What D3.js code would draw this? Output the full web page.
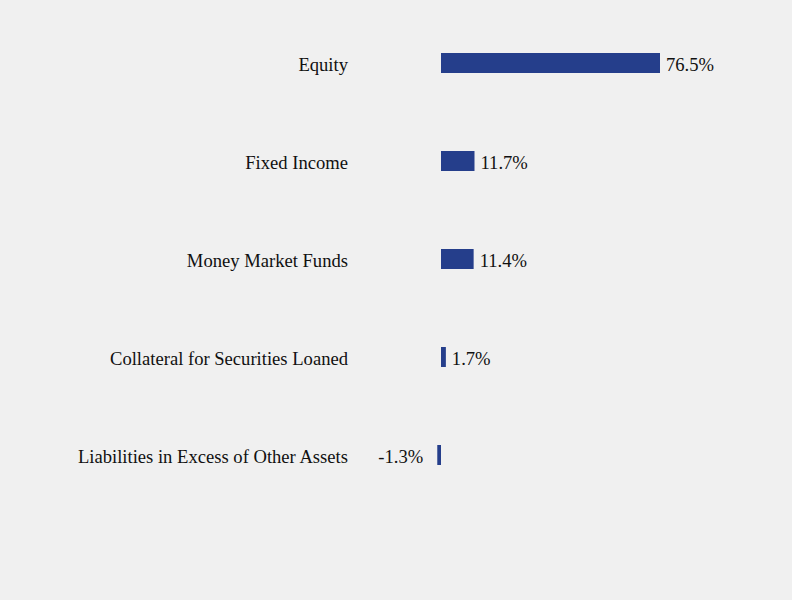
<!DOCTYPE html>
<meta charset="utf-8">
<script src="https://d3js.org/d3.v7.min.js"></script>
<style>
  body { margin: 0; background: #f0f0f0; }
</style>
<div id="my_dataviz"></div>
<script>

// chart data
var categories = ["Equity", "Fixed Income", "Money Market Funds", "Collateral for Securities Loaned", "Liabilities in Excess of Other Assets"];
var values = [76.5, 11.7, 11.4, 1.7, -1.3];

var width = 792, height = 600;
var fontFamily = "'Times New Roman', Times, Tinos, serif";

var svg = d3.select("#my_dataviz")
  .append("svg")
    .attr("width", width)
    .attr("height", height)
    .style("background", "#f0f0f0");

// x scale: zero at 441, 76.5 at 660
var x = d3.scaleLinear()
  .domain([0, 76.5])
  .range([441, 660]);

// y band scale, centers at 63 .. 455
var y = d3.scaleBand()
  .domain(categories)
  .range([14, 504])
  .paddingInner(0.796)
  .paddingOuter(0.398);

// bars
svg.selectAll("rect.bar")
  .data(values)
  .enter()
  .append("rect")
    .attr("class", "bar")
    .attr("x", function(d) { return x(Math.min(0, d)); })
    .attr("y", function(d, i) { return y(categories[i]); })
    .attr("width", function(d) { return Math.abs(x(d) - x(0)); })
    .attr("height", y.bandwidth())
    .style("fill", "#253e8b");

// category labels
svg.selectAll("text.cat")
  .data(categories)
  .enter()
  .append("text")
    .attr("class", "cat")
    .attr("x", 348)
    .attr("y", function(d) { return y(d) + y.bandwidth() / 2 + 1; })
    .attr("dy", "0.35em")
    .attr("text-anchor", "end")
    .style("font-family", fontFamily)
    .style("font-size", "18.6px")
    .style("fill", "#111")
    .text(function(d) { return d; });

// value labels
svg.selectAll("text.val")
  .data(values)
  .enter()
  .append("text")
    .attr("class", "val")
    .attr("x", function(d) { return d < 0 ? x(d) - 14 : x(d) + 6; })
    .attr("y", function(d, i) { return y(categories[i]) + y.bandwidth() / 2 + 1; })
    .attr("dy", "0.35em")
    .attr("text-anchor", function(d) { return d < 0 ? "end" : "start"; })
    .style("font-family", fontFamily)
    .style("font-size", "18.6px")
    .style("fill", "#111")
    .text(function(d) { return d.toFixed(1) + "%"; });

</script>
